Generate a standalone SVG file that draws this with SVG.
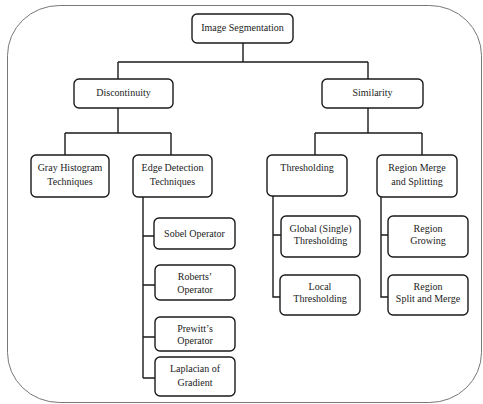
<svg xmlns="http://www.w3.org/2000/svg" width="483" height="404" viewBox="0 0 483 404">
<style>
.box{fill:#fff;stroke:#1a1a1a;stroke-width:1.4}
.t{font-family:"Liberation Serif","Times New Roman",serif;font-size:10px;fill:#222;text-anchor:middle}
.c{fill:none;stroke:#1a1a1a;stroke-width:1.4}
</style>
<rect x="0" y="0" width="483" height="404" fill="#fff"/>
<rect x="7.5" y="5.5" width="474" height="397" rx="52" ry="50" fill="none" stroke="#777" stroke-width="1"/>
<g id="connectors">
<path class="c" d="M243 43V62M118 62H368M118 62V79M368 62V79"/>
<path class="c" d="M118 108V133M65 133H171M65 133V155M171 133V155"/>
<path class="c" d="M368 108V133M315 133H422M315 133V155M422 133V155"/>
<path class="c" d="M143 197V378M143 236H154M143 285H155M143 337H155M143 378H155"/>
<path class="c" d="M273 196V297H280M273 235H281"/>
<path class="c" d="M381 197V297H388M381 235H388"/>
</g>
<g id="n-root"><rect class="box" x="192" y="14" width="101" height="29" rx="5"/><text class="t" x="242.5" y="31">Image Segmentation</text></g>
<g id="n-disc"><rect class="box" x="74" y="79" width="99" height="29" rx="5"/><text class="t" x="123.5" y="96">Discontinuity</text></g>
<g id="n-sim"><rect class="box" x="322" y="79" width="101" height="29" rx="5"/><text class="t" x="372.5" y="96">Similarity</text></g>
<g id="n-gray"><rect class="box" x="31" y="155" width="78" height="42" rx="5"/><text class="t" x="70" y="171">Gray Histogram</text><text class="t" x="70" y="185">Techniques</text></g>
<g id="n-edge"><rect class="box" x="133" y="155" width="79" height="42" rx="5"/><text class="t" x="172.5" y="171">Edge Detection</text><text class="t" x="172.5" y="185">Techniques</text></g>
<g id="n-thr"><rect class="box" x="267" y="155" width="80" height="41" rx="5"/><text class="t" x="307" y="171">Thresholding</text></g>
<g id="n-rms"><rect class="box" x="377" y="155" width="80" height="42" rx="5"/><text class="t" x="417" y="171">Region Merge</text><text class="t" x="417" y="185">and Splitting</text></g>
<g id="n-sobel"><rect class="box" x="154" y="218" width="81" height="31" rx="5"/><text class="t" x="194.5" y="237">Sobel Operator</text></g>
<g id="n-rob"><rect class="box" x="155" y="265" width="80" height="35" rx="5"/><text class="t" x="195" y="280">Roberts’</text><text class="t" x="195" y="293">Operator</text></g>
<g id="n-pre"><rect class="box" x="155" y="317" width="80" height="34" rx="5"/><text class="t" x="195" y="332">Prewitt’s</text><text class="t" x="195" y="344">Operator</text></g>
<g id="n-lap"><rect class="box" x="155" y="357" width="80" height="39" rx="5"/><text class="t" x="195" y="372">Laplacian of</text><text class="t" x="195" y="386">Gradient</text></g>
<g id="n-glob"><rect class="box" x="281" y="216" width="79" height="41" rx="5"/><text class="t" x="320.5" y="232">Global (Single)</text><text class="t" x="320.5" y="244">Thresholding</text></g>
<g id="n-local"><rect class="box" x="280" y="275" width="80" height="40" rx="5"/><text class="t" x="320" y="290">Local</text><text class="t" x="320" y="302">Thresholding</text></g>
<g id="n-grow"><rect class="box" x="388" y="216" width="80" height="41" rx="5"/><text class="t" x="428" y="232">Region</text><text class="t" x="428" y="244">Growing</text></g>
<g id="n-split"><rect class="box" x="388" y="275" width="80" height="40" rx="5"/><text class="t" x="428" y="290">Region</text><text class="t" x="428" y="302">Split and Merge</text></g>
</svg>
